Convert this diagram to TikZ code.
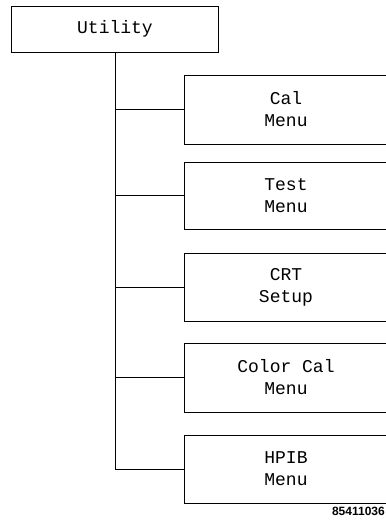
\documentclass[tikz,border=0pt]{standalone}
\usepackage{fontspec}
\newfontfamily\boxfont{Liberation Mono}
\newfontfamily\tagfont{Liberation Sans}
\tikzset{
    menubox/.style={draw, thick, rectangle, inner sep=0pt, align=center,
        minimum width=204pt, minimum height=68pt,
        font=\boxfont\fontsize{18}{22}\selectfont},
    link/.style={draw, thick}
}
\begin{document}
\begin{tikzpicture}[x=1pt, y=-1pt]
    \useasboundingbox (0,0) rectangle (386,523);
    \clip (0,0) rectangle (386,523);

    % Top box
    \node[menubox, minimum width=207pt, minimum height=46pt] (util) at (115,29) {Utility};

    % Sub menus
    \node[menubox, minimum height=69pt] (cal) at (286,109.5) {Cal\\Menu};
    \node[menubox, minimum height=67pt] (test) at (286,195.5) {Test\\Menu};
    \node[menubox] (crt) at (286,287) {CRT\\Setup};
    \node[menubox, minimum height=69pt] (colcal) at (286,377.5) {Color Cal\\Menu};
    \node[menubox] (hpib) at (286,469) {HPIB\\Menu};

    % Tree lines
    \draw[link] (util.south) |- (hpib.west);
    \draw[link] (util.south |- cal.west) -- (cal.west);
    \draw[link] (util.south |- test.west) -- (test.west);
    \draw[link] (util.south |- crt.west) -- (crt.west);
    \draw[link] (util.south |- colcal.west) -- (colcal.west);

    % Figure tag
    \node[anchor=east, inner sep=0pt, font=\tagfont\bfseries\fontsize{12}{12}\selectfont] (tag) at (385,511) {85411036};
\end{tikzpicture}
\end{document}
